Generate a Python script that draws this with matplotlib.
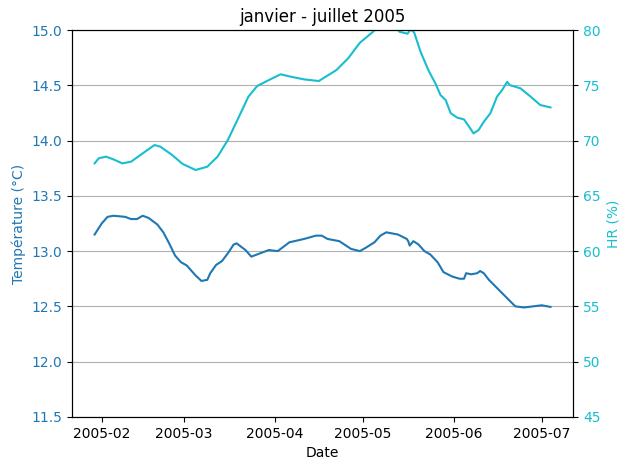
import matplotlib
matplotlib.use("Agg")
import matplotlib.pyplot as plt
import pandas as pd

# temperature readings (daily smoothed)
t_dates = ["2005-01-29 14:00", "2005-02-01", "2005-02-03", "2005-02-05", "2005-02-09",
           "2005-02-11", "2005-02-13", "2005-02-15", "2005-02-17", "2005-02-20",
           "2005-02-22", "2005-02-24", "2005-02-26", "2005-02-28", "2005-03-02",
           "2005-03-04", "2005-03-05", "2005-03-07", "2005-03-09", "2005-03-10",
           "2005-03-12", "2005-03-14", "2005-03-16", "2005-03-18", "2005-03-19",
           "2005-03-22", "2005-03-24", "2005-03-27", "2005-03-30", "2005-04-02",
           "2005-04-06", "2005-04-11", "2005-04-15", "2005-04-17", "2005-04-19",
           "2005-04-23", "2005-04-27", "2005-04-30", "2005-05-02", "2005-05-05",
           "2005-05-07", "2005-05-09", "2005-05-13", "2005-05-16", "2005-05-16 12:00",
           "2005-05-17", "2005-05-18 06:00", "2005-05-20", "2005-05-22", "2005-05-24",
           "2005-05-26 12:00", "2005-05-28 12:00", "2005-05-31 12:00", "2005-06-03",
           "2005-06-04 12:00", "2005-06-05 06:00", "2005-06-07", "2005-06-09",
           "2005-06-10", "2005-06-11 06:00", "2005-06-13", "2005-06-16", "2005-06-19",
           "2005-06-22", "2005-06-25", "2005-06-28", "2005-07-01", "2005-07-04"]
t_vals = [13.15, 13.25, 13.31, 13.32, 13.31,
          13.29, 13.29, 13.32, 13.30, 13.24,
          13.17, 13.07, 12.96, 12.90, 12.87,
          12.81, 12.78, 12.73, 12.74, 12.80,
          12.875, 12.91, 12.98, 13.06, 13.07,
          13.01, 12.95, 12.98, 13.01, 13.00,
          13.08, 13.11, 13.14, 13.14, 13.11,
          13.09, 13.02, 13.00, 13.03, 13.08,
          13.14, 13.17, 13.15, 13.11, 13.09,
          13.05, 13.09, 13.06, 13.00, 12.97,
          12.90, 12.81, 12.77, 12.75,
          12.75, 12.80, 12.79, 12.80,
          12.82, 12.80, 12.74, 12.66, 12.58,
          12.50, 12.49, 12.50, 12.51, 12.495]

# relative humidity
hr_dates = ["2005-01-29 14:00", "2005-01-31", "2005-02-02 12:00", "2005-02-05", "2005-02-08",
            "2005-02-11", "2005-02-15", "2005-02-19", "2005-02-21", "2005-02-25",
            "2005-02-28 12:00", "2005-03-05", "2005-03-09", "2005-03-12 12:00", "2005-03-16",
            "2005-03-19 12:00", "2005-03-23", "2005-03-26", "2005-03-30", "2005-04-03",
            "2005-04-06 12:00", "2005-04-11", "2005-04-16", "2005-04-22", "2005-04-26",
            "2005-04-30", "2005-05-04 12:00", "2005-05-08", "2005-05-11", "2005-05-13 12:00",
            "2005-05-16 06:00", "2005-05-17 06:00", "2005-05-18 12:00", "2005-05-20 18:00",
            "2005-05-23 12:00", "2005-05-25 18:00", "2005-05-27 12:00", "2005-05-29 06:00",
            "2005-05-31", "2005-06-02 06:00", "2005-06-04 12:00", "2005-06-06 06:00",
            "2005-06-07 18:00", "2005-06-09 12:00", "2005-06-11 06:00", "2005-06-13 12:00",
            "2005-06-15 18:00", "2005-06-17 12:00", "2005-06-19 06:00", "2005-06-20",
            "2005-06-23 18:00", "2005-06-27 06:00", "2005-06-30 12:00", "2005-07-04"]
hr_vals = [67.94, 68.4, 68.55, 68.3, 67.94,
           68.09, 68.85, 69.6, 69.45, 68.7,
           67.9, 67.34, 67.64, 68.55, 70.05,
           72.0, 73.97, 74.94, 75.48, 76.0,
           75.78, 75.54, 75.39, 76.38, 77.44,
           78.85, 79.85, 80.7, 80.6, 79.85,
           79.67, 80.05, 79.8, 78.0,
           76.3, 75.18, 74.12, 73.67,
           72.47, 72.07, 71.92, 71.26,
           70.65, 70.96, 71.7, 72.47,
           73.97, 74.57, 75.32, 75.03,
           74.73, 73.97, 73.22, 73.0]

fig, ax1 = plt.subplots(figsize=(6.3, 4.7), dpi=100)
fig.subplots_adjust(left=0.114, right=0.910, bottom=0.113, top=0.936)

ax1.plot(pd.to_datetime(t_dates, format="ISO8601"), t_vals, color="tab:blue")
ax1.set_xlabel("Date")
ax1.set_ylabel("Température (°C)", color="tab:blue")
ax1.tick_params(axis="y", labelcolor="tab:blue")
ax1.set_ylim(11.5, 15.0)
ax1.grid(axis="y")

ax2 = ax1.twinx()
ax2.plot(pd.to_datetime(hr_dates, format="ISO8601"), hr_vals, color="tab:cyan")
ax2.set_ylabel("HR (%)", color="tab:cyan")
ax2.tick_params(axis="y", labelcolor="tab:cyan")
ax2.set_ylim(45, 80)

ax1.set_title("janvier - juillet 2005")

fig.savefig("out.png")
